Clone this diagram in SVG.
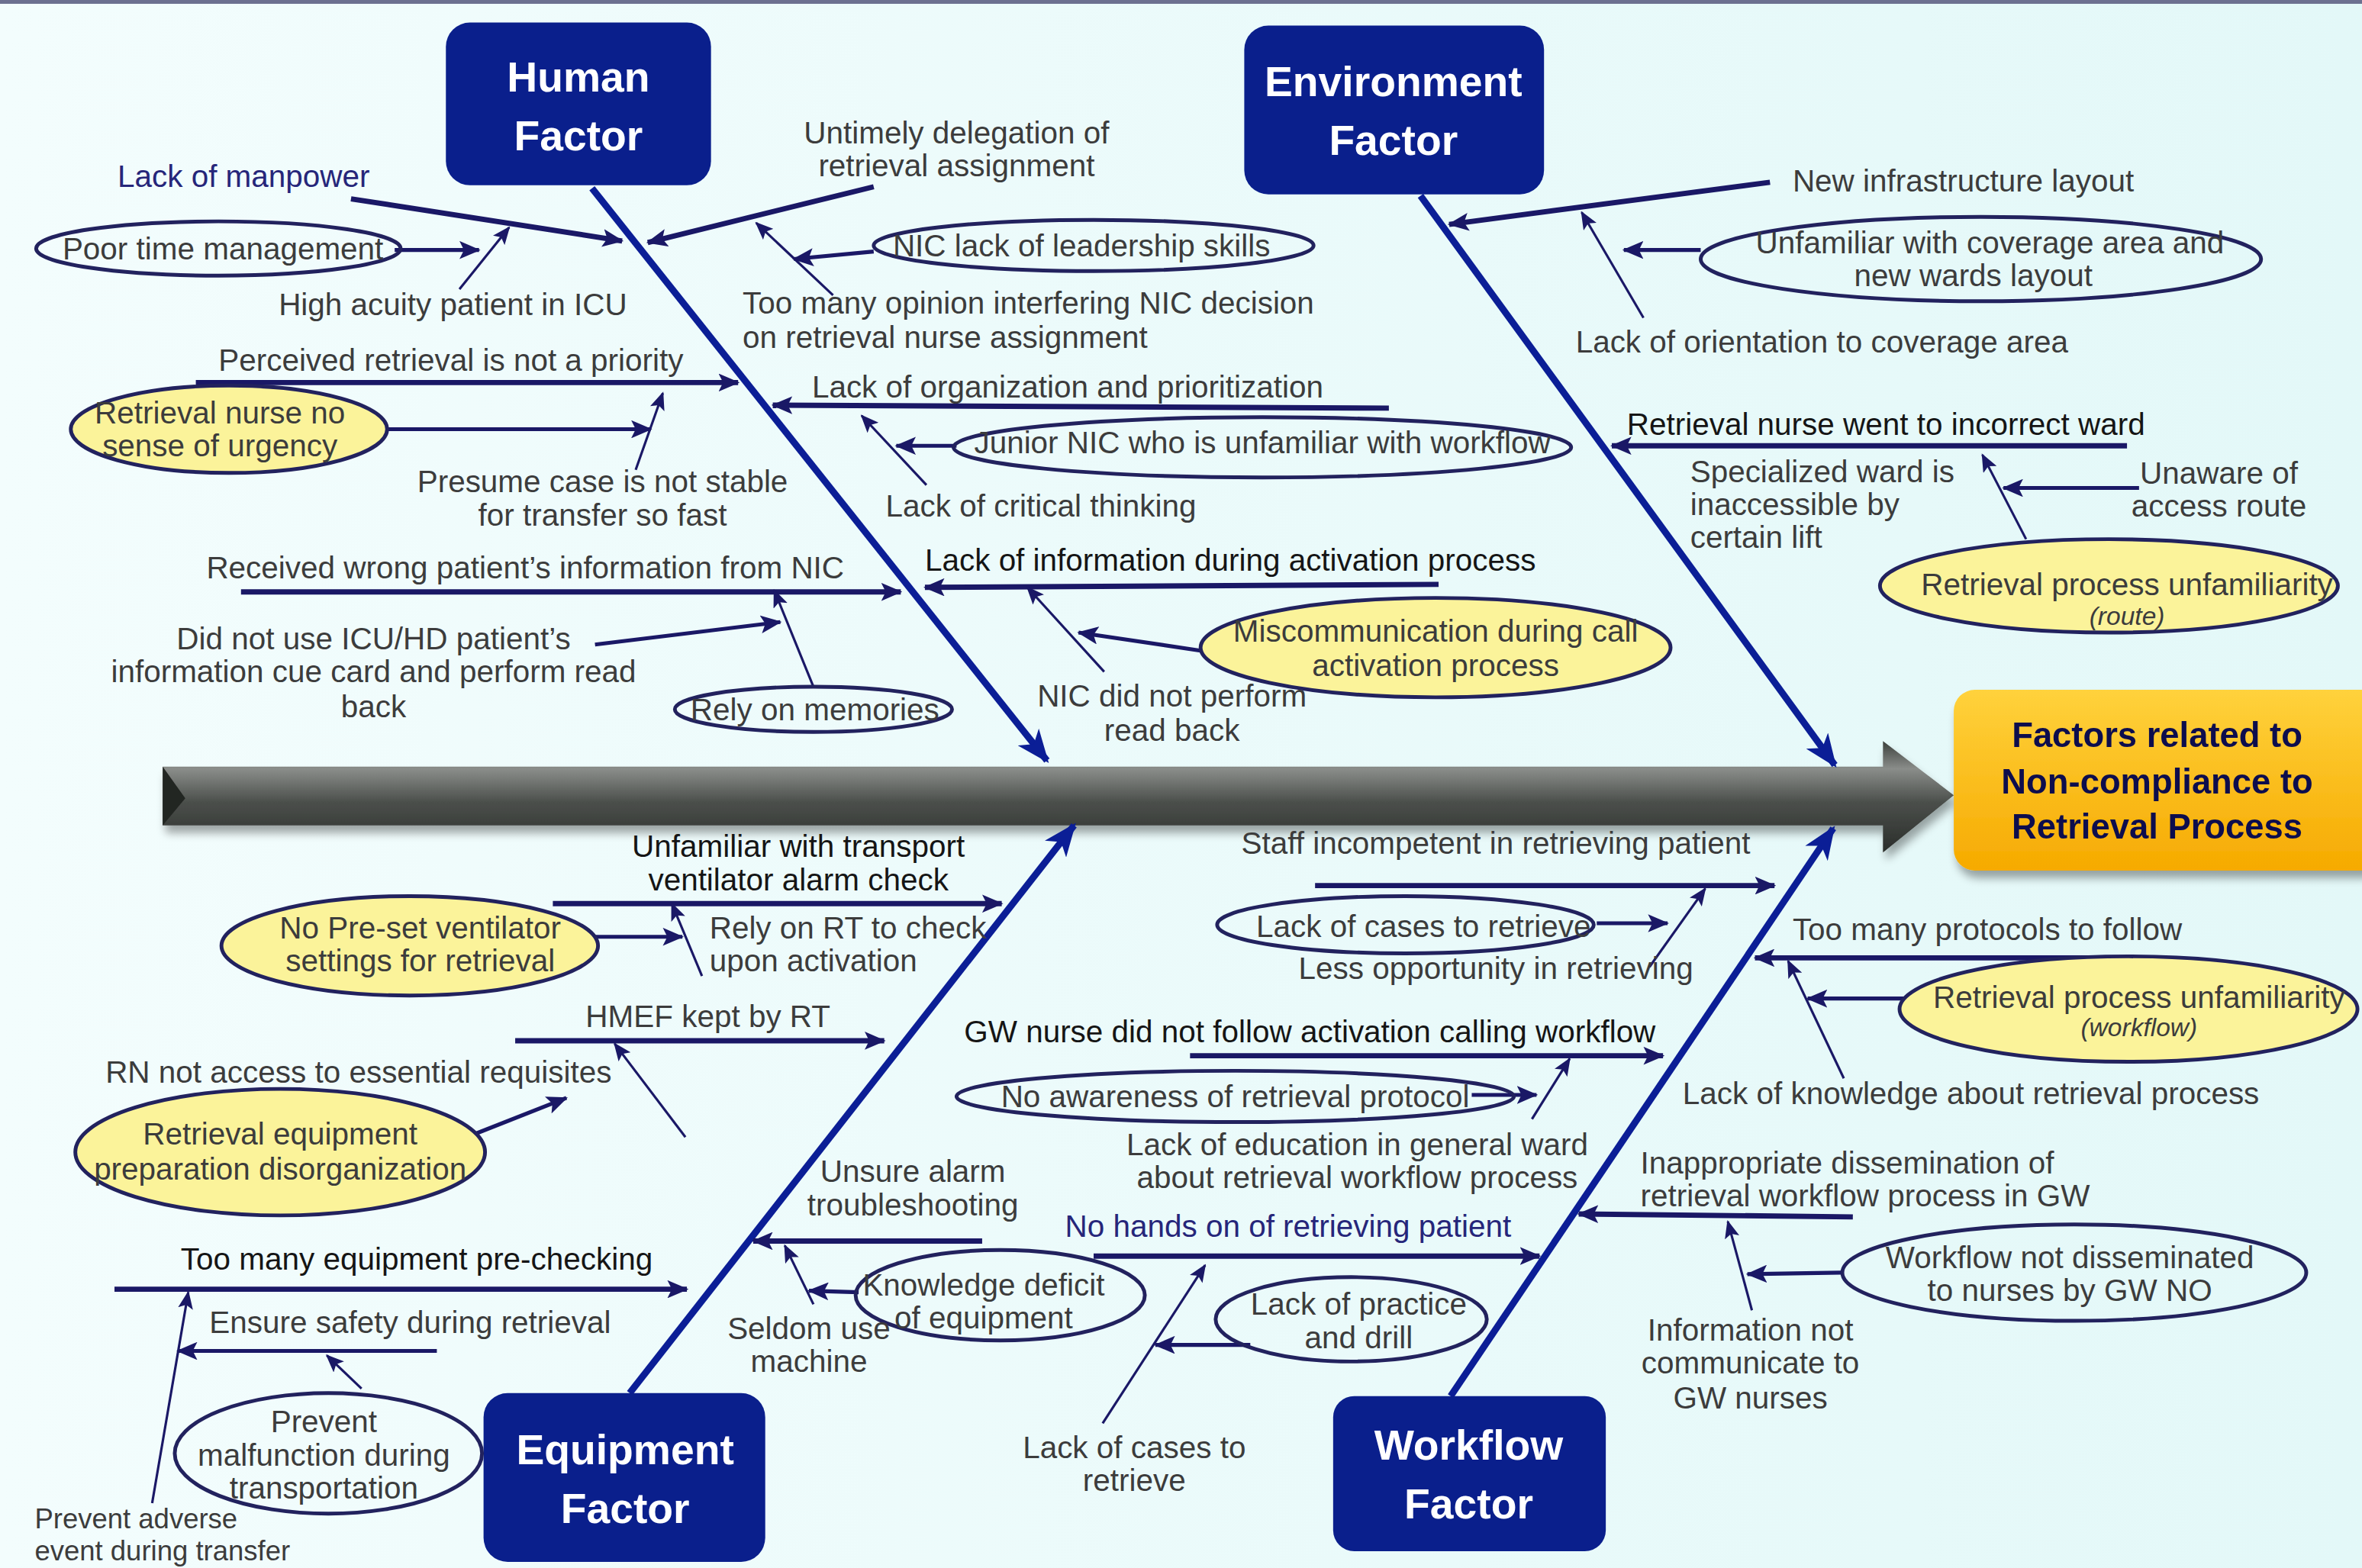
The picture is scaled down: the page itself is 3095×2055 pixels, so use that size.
<svg xmlns="http://www.w3.org/2000/svg" width="3095" height="2055" viewBox="0 0 3095 2055">
<defs>
<style>
.bone{stroke:#0b1e96;stroke-width:4.5;fill:none;marker-end:url(#ab)}
.m{stroke:#1a1866;stroke-width:3.5;fill:none;marker-end:url(#am)}
.s{stroke:#1a1866;stroke-width:2.6;fill:none;marker-end:url(#am)}
.th{stroke:#1a1866;stroke-width:1.6;fill:none;marker-end:url(#as)}
.ell{fill:none;stroke:#22225e;stroke-width:2.5}
.yel{fill:#fbf39a;stroke:#22225e;stroke-width:2.5}
.box{fill:#0a1f8c}
.bt{font-family:"Liberation Sans",Arial,sans-serif;font-weight:bold;font-size:28px;fill:#ffffff;text-anchor:middle}
.t{font-family:"Liberation Sans",Arial,sans-serif;font-size:20.5px;fill:#3c3c3c}
.k{fill:#151515}
.n{fill:#26267a}
.c{text-anchor:middle}
.i{font-style:italic;font-size:17px}
.sm{font-size:18.5px}
.rt{font-family:"Liberation Sans",Arial,sans-serif;font-weight:bold;font-size:23px;fill:#10104e;text-anchor:middle}
</style>
<linearGradient id="bg" x1="0" y1="0" x2="1" y2="0">
<stop offset="0" stop-color="#f3fdfd"/><stop offset="1" stop-color="#e3f8f8"/>
</linearGradient>
<linearGradient id="sp" x1="0" y1="0" x2="0" y2="1">
<stop offset="0" stop-color="#3c403c"/><stop offset="0.25" stop-color="#8a8d8a"/><stop offset="0.55" stop-color="#4b4f4b"/><stop offset="1" stop-color="#2a2d2a"/>
</linearGradient>
<linearGradient id="og" x1="0" y1="0" x2="0" y2="1">
<stop offset="0" stop-color="#ffd23c"/><stop offset="1" stop-color="#f6aa00"/>
</linearGradient>
<filter id="sh" x="-5%" y="-30%" width="110%" height="180%">
<feGaussianBlur in="SourceAlpha" stdDeviation="3"/><feOffset dx="2" dy="5" result="b"/>
<feComponentTransfer><feFuncA type="linear" slope="0.35"/></feComponentTransfer>
<feMerge><feMergeNode/><feMergeNode in="SourceGraphic"/></feMerge>
</filter>
<marker id="ab" markerUnits="userSpaceOnUse" viewBox="0 0 22 18" refX="20" refY="9" markerWidth="22" markerHeight="18" orient="auto"><path d="M0,0 L22,9 L0,18 L6,9 Z" fill="#0b1e96"/></marker>
<marker id="am" markerUnits="userSpaceOnUse" viewBox="0 0 14 12" refX="13" refY="6" markerWidth="14" markerHeight="12" orient="auto"><path d="M0,0 L14,6 L0,12 L3,6 Z" fill="#1a1866"/></marker>
<marker id="as" markerUnits="userSpaceOnUse" viewBox="0 0 12 10" refX="11" refY="5" markerWidth="12" markerHeight="10" orient="auto"><path d="M0,0 L12,5 L0,10 L2.5,5 Z" fill="#1a1866"/></marker>
</defs>
<rect x="0" y="0" width="3095" height="2055" fill="url(#bg)"/>
<rect x="0" y="0" width="3095" height="5" fill="#6c7090"/>
<g transform="scale(1.97385)">
<g id="spine" filter="url(#sh)">
<path d="M108,509 L1250,509 L1250,492 L1297,528 L1250,566 L1250,548 L108,548 Z" fill="url(#sp)"/>
<path d="M108,509 L123,530 L108,548 Z" fill="#222522"/>
</g>
<g id="connectors">
<path class="bone" d="M393,125 L695,505"/>
<path class="bone" d="M943,130 L1218,508"/>
<path class="bone" d="M418,925 L713,548"/>
<path class="bone" d="M963,927 L1217,550"/>
<path class="m" d="M233,132 L413,160"/>
<path class="s" d="M262,166 L318,166"/>
<path class="th" d="M305,192 L338,151"/>
<path class="m" d="M580,124 L430,161"/>
<path class="s" d="M580,167 L527,172"/>
<path class="th" d="M553,196 L502,148"/>
<path class="m" d="M130,254 L490,254"/>
<path class="s" d="M257,285 L432,285"/>
<path class="th" d="M422,312 L440,261"/>
<path class="m" d="M922,271 L513,269"/>
<path class="s" d="M635,296 L595,296"/>
<path class="th" d="M615,322 L572,276"/>
<path class="m" d="M160,393 L598,393"/>
<path class="s" d="M395,428 L518,413"/>
<path class="th" d="M540,456 L514,392"/>
<path class="m" d="M955,388 L614,390"/>
<path class="s" d="M797,432 L716,420"/>
<path class="th" d="M733,446 L682,390"/>
<path class="m" d="M1175,121 L962,149"/>
<path class="s" d="M1129,166 L1078,166"/>
<path class="th" d="M1091,211 L1050,141"/>
<path class="m" d="M1412,296 L1070,296"/>
<path class="s" d="M1420,324 L1330,324"/>
<path class="th" d="M1345,358 L1316,302"/>
<path class="m" d="M367,600 L665,600"/>
<path class="s" d="M395,622 L453,622"/>
<path class="th" d="M466,648 L446,600"/>
<path class="m" d="M342,691 L587,691"/>
<path class="s" d="M310,755 L376,729"/>
<path class="th" d="M455,755 L408,693"/>
<path class="m" d="M652,824 L500,824"/>
<path class="s" d="M570,858 L537,857"/>
<path class="th" d="M540,866 L521,827"/>
<path class="m" d="M76,856 L456,856"/>
<path class="s" d="M290,897 L118,897"/>
<path class="th" d="M240,922 L217,900"/>
<path class="th" d="M101,998 L125,858"/>
<path class="m" d="M873,588 L1178,588"/>
<path class="s" d="M1060,613 L1107,613"/>
<path class="th" d="M1095,642 L1132,590"/>
<path class="m" d="M1395,636 L1165,636"/>
<path class="s" d="M1264,663 L1200,663"/>
<path class="th" d="M1224,716 L1187,638"/>
<path class="m" d="M790,701 L1104,701"/>
<path class="s" d="M977,727 L1020,727"/>
<path class="th" d="M1017,743 L1042,703"/>
<path class="m" d="M726,834 L1022,834"/>
<path class="s" d="M830,893 L767,893"/>
<path class="th" d="M732,945 L800,840"/>
<path class="m" d="M1230,808 L1048,806"/>
<path class="s" d="M1222,845 L1160,846"/>
<path class="th" d="M1163,870 L1147,811"/>
</g>
<g id="result" filter="url(#sh)">
<rect x="1297" y="458" width="285" height="120" rx="14" fill="url(#og)"/>
<text class="rt" x="1432" y="496">Factors related to</text>
<text class="rt" x="1432" y="527">Non-compliance to</text>
<text class="rt" x="1432" y="557">Retrieval Process</text>
</g>
<g id="human-factor">
<rect class="box" x="296" y="15" width="176" height="108" rx="16"/>
<text class="bt" x="384" y="61">Human</text>
<text class="bt" x="384" y="100">Factor</text>
</g>
<g id="environment-factor">
<rect class="box" x="826" y="17" width="199" height="112" rx="16"/>
<text class="bt" x="925" y="64">Environment</text>
<text class="bt" x="925" y="103">Factor</text>
</g>
<g id="equipment-factor">
<rect class="box" x="321" y="925" width="187" height="112" rx="16"/>
<text class="bt" x="415" y="972">Equipment</text>
<text class="bt" x="415" y="1011">Factor</text>
</g>
<g id="workflow-factor">
<rect class="box" x="885" y="927" width="181" height="103" rx="14"/>
<text class="bt" x="975" y="969">Workflow</text>
<text class="bt" x="975" y="1008">Factor</text>
</g>
<g id="human-causes">
<text class="t n" x="78" y="124">Lack of manpower</text>
<g id="n-poor-time"><ellipse class="ell" cx="145" cy="165" rx="121" ry="18"/><text class="t c" x="148" y="172">Poor time management</text></g>
<text class="t" x="185" y="209">High acuity patient in ICU</text>
<text class="t c" x="635" y="95">Untimely delegation of</text>
<text class="t c" x="635" y="117">retrieval assignment</text>
<g id="n-nic-lead"><ellipse class="ell" cx="726" cy="163" rx="146" ry="17"/><text class="t c" x="718" y="170">NIC lack of leadership skills</text></g>
<text class="t" x="493" y="208">Too many opinion interfering NIC decision</text>
<text class="t" x="493" y="231">on retrieval nurse assignment</text>
<text class="t" x="145" y="246">Perceived retrieval is not a priority</text>
<g id="n-urgency"><ellipse class="yel" cx="152" cy="285" rx="105" ry="29"/><text class="t c" x="146" y="281">Retrieval nurse no</text><text class="t c" x="146" y="303">sense of urgency</text></g>
<text class="t c" x="400" y="327">Presume case is not stable</text>
<text class="t c" x="400" y="349">for transfer so fast</text>
<text class="t" x="539" y="264">Lack of organization and prioritization</text>
<g id="n-junior"><ellipse class="ell" cx="838" cy="297" rx="205" ry="20"/><text class="t c" x="838" y="301">Junior NIC who is unfamiliar with workflow</text></g>
<text class="t" x="588" y="343">Lack of critical thinking</text>
<text class="t" x="137" y="384">Received wrong patient’s information from NIC</text>
<text class="t c" x="248" y="431">Did not use ICU/HD patient’s</text>
<text class="t c" x="248" y="453">information cue card  and perform read</text>
<text class="t c" x="248" y="476">back</text>
<g id="n-rely"><ellipse class="ell" cx="540" cy="471" rx="92" ry="15"/><text class="t c" x="541" y="478">Rely on memories</text></g>
<text class="t k" x="614" y="379">Lack of information during activation process</text>
<g id="n-miscomm"><ellipse class="yel" cx="953" cy="430" rx="156" ry="33"/><text class="t c" x="953" y="426">Miscommunication during call</text><text class="t c" x="953" y="449">activation process</text></g>
<text class="t c" x="778" y="469">NIC did not perform</text>
<text class="t c" x="778" y="492">read back</text>
</g>
<g id="environment-causes">
<text class="t" x="1190" y="127">New infrastructure layout</text>
<g id="n-unfam-cov"><ellipse class="ell" cx="1315" cy="172" rx="186" ry="28"/><text class="t c" x="1321" y="168">Unfamiliar with coverage area and</text><text class="t c" x="1310" y="190">new wards layout</text></g>
<text class="t" x="1046" y="234">Lack of orientation to coverage area</text>
<text class="t k" x="1080" y="289">Retrieval nurse went to incorrect ward</text>
<text class="t" x="1122" y="320">Specialized ward is</text>
<text class="t" x="1122" y="342">inaccessible by</text>
<text class="t" x="1122" y="364">certain lift</text>
<text class="t c" x="1473" y="321">Unaware of</text>
<text class="t c" x="1473" y="343">access route</text>
<g id="n-route"><ellipse class="yel" cx="1400" cy="389" rx="152" ry="31"/><text class="t c" x="1412" y="395">Retrieval process unfamiliarity</text><text class="t c i" x="1412" y="415">(route)</text></g>
</g>
<g id="equipment-causes">
<text class="t c k" x="530" y="569">Unfamiliar with transport</text>
<text class="t c k" x="530" y="591">ventilator alarm check</text>
<g id="n-preset"><ellipse class="yel" cx="272" cy="628" rx="125" ry="33"/><text class="t c" x="279" y="623">No Pre-set ventilator</text><text class="t c" x="279" y="645">settings for retrieval</text></g>
<text class="t" x="471" y="623">Rely on RT to check</text>
<text class="t" x="471" y="645">upon activation</text>
<text class="t c" x="470" y="682">HMEF kept by RT</text>
<text class="t" x="70" y="719">RN not access to essential requisites</text>
<g id="n-equip-prep"><ellipse class="yel" cx="186" cy="765" rx="136" ry="42"/><text class="t c" x="186" y="760">Retrieval equipment</text><text class="t c" x="186" y="783">preparation disorganization</text></g>
<text class="t c" x="606" y="785">Unsure alarm</text>
<text class="t c" x="606" y="807">troubleshooting</text>
<g id="n-knowledge"><ellipse class="ell" cx="664" cy="860" rx="96" ry="30"/><text class="t c" x="653" y="860">Knowledge deficit</text><text class="t c" x="653" y="882">of equipment</text></g>
<text class="t c" x="537" y="889">Seldom use</text>
<text class="t c" x="537" y="911">machine</text>
<text class="t k" x="120" y="843">Too many equipment pre-checking</text>
<text class="t" x="139" y="885">Ensure safety during retrieval</text>
<g id="n-prevent"><ellipse class="ell" cx="218" cy="965" rx="102" ry="40"/><text class="t c" x="215" y="951">Prevent</text><text class="t c" x="215" y="973">malfunction during</text><text class="t c" x="215" y="995">transportation</text></g>
<text class="t sm" x="23" y="1015">Prevent adverse</text>
<text class="t sm" x="23" y="1036">event during transfer</text>
</g>
<g id="workflow-causes">
<text class="t" x="824" y="567">Staff incompetent in retrieving patient</text>
<g id="n-cases"><ellipse class="ell" cx="933" cy="614" rx="125" ry="19"/><text class="t c" x="945" y="622">Lack of cases to retrieve</text></g>
<text class="t" x="862" y="650">Less opportunity in retrieving</text>
<text class="t" x="1190" y="624">Too many protocols to follow</text>
<g id="n-workflow-unfam"><ellipse class="yel" cx="1413" cy="670" rx="152" ry="35"/><text class="t c" x="1420" y="669">Retrieval process unfamiliarity</text><text class="t c i" x="1420" y="688">(workflow)</text></g>
<text class="t" x="1117" y="733">Lack of knowledge about retrieval process</text>
<text class="t k" x="640" y="692">GW nurse did not follow activation calling workflow</text>
<g id="n-awareness"><ellipse class="ell" cx="820" cy="728" rx="185" ry="17"/><text class="t c" x="820" y="735">No awareness of retrieval protocol</text></g>
<text class="t c" x="901" y="767">Lack of education in general ward</text>
<text class="t c" x="901" y="789">about retrieval workflow process</text>
<text class="t n" x="707" y="821">No hands on of retrieving patient</text>
<g id="n-practice"><ellipse class="ell" cx="897" cy="876" rx="90" ry="28"/><text class="t c" x="902" y="873">Lack of practice</text><text class="t c" x="902" y="895">and drill</text></g>
<text class="t c" x="753" y="968">Lack of cases to</text>
<text class="t c" x="753" y="990">retrieve</text>
<text class="t" x="1089" y="779">Inappropriate dissemination of</text>
<text class="t" x="1089" y="801">retrieval workflow process in GW</text>
<g id="n-dissem"><ellipse class="ell" cx="1377" cy="845" rx="154" ry="32"/><text class="t c" x="1374" y="842">Workflow not disseminated</text><text class="t c" x="1374" y="864">to nurses by GW NO</text></g>
<text class="t c" x="1162" y="890">Information not</text>
<text class="t c" x="1162" y="912">communicate to</text>
<text class="t c" x="1162" y="935">GW nurses</text>
</g>
</g>
</svg>
